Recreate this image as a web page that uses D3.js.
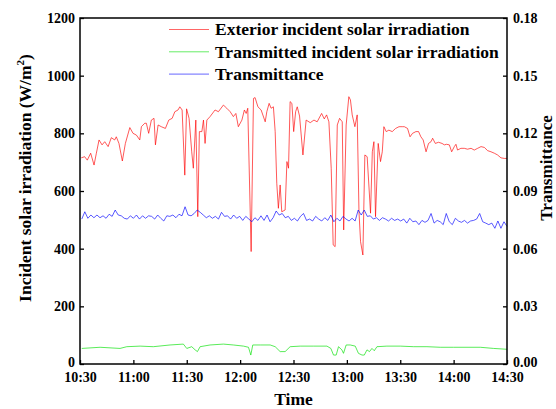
<!DOCTYPE html>
<html>
<head>
<meta charset="utf-8">
<script src="https://cdn.jsdelivr.net/npm/d3@7"></script>
<style>
  html, body { margin: 0; padding: 0; background: #fff; }
  svg { display: block; }
  text { font-family: "Liberation Serif", "Times New Roman", serif; font-weight: bold; fill: #000; }
</style>
</head>
<body>
<svg id="chart" width="556" height="409"></svg>
<script>
// ---- Data (minutes after 10:30) ----
const xTickMinutes = [0, 30, 60, 90, 120, 150, 180, 210, 240];
const xTickLabels = ["10:30", "11:00", "11:30", "12:00", "12:30", "13:00", "13:30", "14:00", "14:30"];
const leftTicks = [0, 200, 400, 600, 800, 1000, 1200];
const rightTicks = [0, 0.03, 0.06, 0.09, 0.12, 0.15, 0.18];

const seriesNames = ["Exterior incident solar irradiation", "Transmitted incident solar irradiation", "Transmittance"];
const seriesColors = ["#ff0000", "#00e000", "#0000ff"];

// Exterior incident solar irradiation (W/m2)
const exteriorTimes = [0.7,2.6,4.1,6.0,7.9,9.2,10.7,12.4,13.9,15.8,17.6,19.5,20.4,21.9,23.8,25.5,28.0,29.8,31.7,33.6,
  34.5,36.4,37.3,38.6,40.1,41.6,42.4,43.9,45.7,48.0,49.9,51.8,53.3,55.1,56.1,57.4,58.9,59.9,61.3,62.8,
  63.7,65.1,66.2,67.1,68.5,69.4,70.3,71.3,73.1,75.9,77.8,80.6,82.5,84.4,86.2,87.6,89.0,91.0,92.4,93.4,
  94.3,96.2,97.5,98.4,100.0,101.8,104.1,105.0,106.3,107.4,108.7,109.7,110.6,111.5,112.5,113.4,115.3,116.3,117.2,118.1,
  119.1,120.1,121.2,122.1,123.4,125.3,127.1,129.4,131.5,133.3,135.8,137.3,138.6,139.9,141.2,142.3,143.4,144.6,145.9,147.4,
  148.2,149.6,151.1,152.0,153.0,154.5,155.8,156.8,157.7,159.0,160.1,161.4,163.3,164.3,165.2,166.1,167.6,168.9,169.9,170.8,
  172.1,173.6,175.5,177.4,179.3,181.1,182.3,184.1,185.5,186.9,188.8,190.3,191.6,192.9,194.5,195.9,197.3,198.2,199.7,201.5,
  203.5,204.8,206.0,207.6,208.9,210.4,211.3,212.2,214.1,216.0,217.8,219.8,221.6,223.5,225.4,227.3,229.1,231.0,232.9,234.7,
  236.6,238.5,240];
const exteriorValues = [715,719,707,731,690,731,777,760,771,754,785,777,788,765,704,765,820,800,794,777,
  823,835,835,800,846,852,760,829,823,817,846,852,875,881,892,881,655,885,852,736,
  679,846,511,806,806,846,765,846,858,881,875,898,887,875,858,869,823,846,881,869,
  887,390,921,924,892,881,840,875,904,887,892,806,627,540,621,528,534,702,679,910,
  904,806,875,892,860,725,846,837,846,840,869,850,864,840,679,413,407,829,852,840,
  465,829,927,916,864,823,864,528,424,378,725,719,523,736,771,511,765,702,736,823,
  806,811,806,817,823,823,823,817,788,800,806,806,788,777,736,765,771,783,765,769,
  765,760,762,760,736,754,762,742,748,748,745,748,742,748,754,751,740,736,731,725,
  715,713,713];

// Transmitted incident solar irradiation (W/m2)
const transmittedTimes = [1,11.3,22.5,26.3,33.8,41.2,50.6,58.1,60,62.8,64.7,66,67.5,73.1,80.6,86.2,91.9,94.7,96,97.1,
  101.3,106.9,109.7,112.5,115.3,118.1,123.8,131.2,138.8,141,142.5,144,145.3,147.2,148.1,149.6,151.9,154.7,156.5,158.5,
  159.8,161.3,162.7,164.1,165.4,166.9,172.5,180,187.5,195,202.5,210,217.5,225,232.5,240];
const transmittedValues = [54,58,54,60,62,60,66,69,54,60,49,43,60,66,69,66,62,58,31,66,
  66,66,60,43,43,60,62,62,62,54,31,31,60,49,37,66,66,62,37,31,
  31,49,43,54,46,60,62,62,60,60,58,58,58,58,54,51];

// Transmittance (evenly sampled from 10:31 to 14:30)
const transmittanceValues = [0.0754,0.0792,0.0758,0.0775,0.0761,0.0775,0.0761,0.0771,0.0758,0.0779,
  0.0768,0.0801,0.0775,0.0771,0.0758,0.0754,0.0771,0.0758,0.0775,0.0754,
  0.0771,0.0758,0.0771,0.0768,0.0754,0.0775,0.0758,0.0744,0.0771,0.0768,
  0.0775,0.0761,0.0779,0.0771,0.0818,0.0775,0.0771,0.0783,0.0801,0.0789,
  0.0775,0.0761,0.0771,0.0758,0.0768,0.0754,0.0789,0.0768,0.0771,0.0754,
  0.0775,0.0758,0.0768,0.0747,0.0768,0.0754,0.0740,0.0761,0.0747,0.0771,
  0.0747,0.0775,0.0740,0.0761,0.0796,0.0775,0.0783,0.0761,0.0768,0.0747,
  0.0758,0.0744,0.0768,0.0783,0.0747,0.0754,0.0744,0.0768,0.0754,0.0744,
  0.0761,0.0747,0.0775,0.0740,0.0758,0.0744,0.0768,0.0754,0.0744,0.0758,
  0.0744,0.0801,0.0775,0.0801,0.0768,0.0771,0.0754,0.0761,0.0747,0.0761,
  0.0754,0.0744,0.0758,0.0747,0.0754,0.0744,0.0754,0.0733,0.0758,0.0740,
  0.0744,0.0725,0.0747,0.0737,0.0747,0.0783,0.0733,0.0747,0.0740,0.0725,
  0.0783,0.0740,0.0725,0.0758,0.0744,0.0737,0.0747,0.0733,0.0744,0.0747,
  0.0754,0.0783,0.0740,0.0733,0.0725,0.0733,0.0706,0.0744,0.0706,0.0740,
  0.0716];
const transmittanceStart = 1, transmittanceEnd = 240;

// ---- Layout ----
const W = 556, H = 409;
const margin = { top: 18, right: 49, bottom: 45, left: 80 };
const iw = W - margin.left - margin.right;
const ih = H - margin.top - margin.bottom;

const svg = d3.select("#chart");
const g = svg.append("g").attr("transform", `translate(${margin.left},${margin.top})`);

const x = d3.scaleLinear().domain([0, 240]).range([0, iw]);
const yL = d3.scaleLinear().domain([0, 1200]).range([ih, 0]);
const yR = d3.scaleLinear().domain([0, 0.18]).range([ih, 0]);

// ---- Lines ----
const lineL = d3.line().x(d => x(d[0])).y(d => yL(d[1]));
const lineR = d3.line().x(d => x(d[0])).y(d => yR(d[1]));

const exteriorData = exteriorTimes.map((t, i) => [t, exteriorValues[i]]);
const transmittedData = transmittedTimes.map((t, i) => [t, transmittedValues[i]]);
const tStep = (transmittanceEnd - transmittanceStart) / (transmittanceValues.length - 1);
const transmittanceData = transmittanceValues.map((v, i) => [transmittanceStart + i * tStep, v]);

g.append("path").datum(exteriorData).attr("d", lineL)
  .attr("fill", "none").attr("stroke", seriesColors[0]).attr("stroke-width", 1).attr("stroke-opacity", 0.65);
g.append("path").datum(transmittedData).attr("d", lineL)
  .attr("fill", "none").attr("stroke", seriesColors[1]).attr("stroke-width", 1).attr("stroke-opacity", 0.65);
g.append("path").datum(transmittanceData).attr("d", lineR)
  .attr("fill", "none").attr("stroke", seriesColors[2]).attr("stroke-width", 1).attr("stroke-opacity", 0.65);

// ---- Axes ----
const fmtTime = d => xTickLabels[xTickMinutes.indexOf(d)];
const axB = g.append("g").attr("transform", `translate(0,${ih})`)
  .call(d3.axisBottom(x).tickValues(xTickMinutes).tickFormat(fmtTime).tickSize(-4).tickSizeOuter(0).tickPadding(8));
const axL = g.append("g")
  .call(d3.axisLeft(yL).tickValues(leftTicks).tickFormat(d3.format("d")).tickSize(-4).tickSizeOuter(0).tickPadding(5));
const axR = g.append("g").attr("transform", `translate(${iw},0)`)
  .call(d3.axisRight(yR).tickValues(rightTicks).tickFormat(d3.format(".2f")).tickSize(-4).tickSizeOuter(0).tickPadding(6));

[axB, axL, axR].forEach(a => {
  a.select(".domain").remove();
  a.selectAll(".tick line").attr("stroke", "#000").attr("stroke-width", 1.3);
  a.selectAll(".tick text").style("font-size", "14px").style("font-family", "'Liberation Serif', serif").style("font-weight", "bold");
});
// lift the zero labels slightly, as in the reference
axL.selectAll(".tick").filter(d => d === 0).select("text").attr("dy", "0.2em");
axR.selectAll(".tick").filter(d => d === 0).select("text").attr("dy", "0.2em");

// frame
g.append("rect").attr("x", 0).attr("y", 0).attr("width", iw).attr("height", ih)
  .attr("fill", "none").attr("stroke", "#000").attr("stroke-width", 1.5);

// ---- Axis titles ----
svg.append("text").attr("x", margin.left + iw / 2).attr("y", 405)
  .attr("text-anchor", "middle").style("font-size", "17.5px").text("Time");

const lt = svg.append("text").attr("transform", "translate(31,178) rotate(-90)")
  .attr("text-anchor", "middle").style("font-size", "17.5px");
lt.append("tspan").text("Incident solar irradiation (W/m");
lt.append("tspan").attr("dy", -7).style("font-size", "11px").text("2");
lt.append("tspan").attr("dy", 7).text(")");

svg.append("text").attr("transform", "translate(552,168) rotate(-90)")
  .attr("text-anchor", "middle").style("font-size", "17px").text("Transmittance");

// ---- Legend ----
const legend = svg.append("g");
seriesNames.forEach((name, i) => {
  const yy = 29.5 + i * 22.3;
  legend.append("line").attr("x1", 169).attr("x2", 209).attr("y1", yy).attr("y2", yy)
    .attr("stroke", seriesColors[i]).attr("stroke-width", 1).attr("stroke-opacity", 0.6);
  legend.append("text").attr("x", 215).attr("y", yy + 5.8).style("font-size", "17.5px").text(name);
});
</script>
</body>
</html>
